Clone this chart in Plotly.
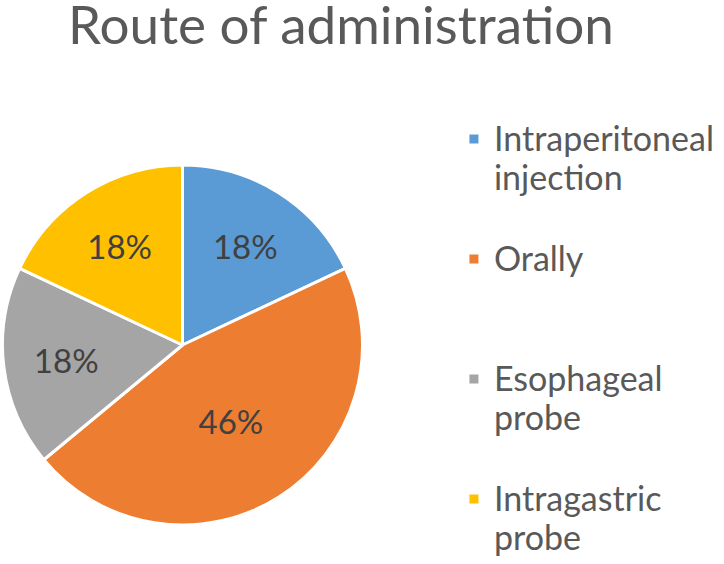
import plotly.graph_objects as go

# ---- data ----
categories = ["Intraperitoneal<br>injection", "Orally", "Esophageal<br>probe", "Intragastric<br>probe"]
values = [18, 46, 18, 18]
colors = ["#5B9BD5", "#ED7D31", "#A5A5A5", "#FFC000"]
title_text = "Route of administration"

FONT = "Lato, Carlito, Calibri, sans-serif"
LEG_TEXT_SIZE = 34
LEG_LINE_SIZE = 30


def legend_label(cat, last):
    lines = cat.split("<br>")
    styled = ["<span style='font-size:%dpx'>%s</span>" % (LEG_TEXT_SIZE, ln) for ln in lines]
    n = 2 if last else 3
    while len(styled) < n:
        styled.append(" ")
    return "<br>".join(styled)


labels = [legend_label(c, i == len(categories) - 1) for i, c in enumerate(categories)]

fig = go.Figure(
    go.Pie(
        labels=labels,
        values=values,
        sort=False,
        direction="clockwise",
        rotation=0,
        marker=dict(colors=colors, line=dict(color="white", width=3)),
        textinfo="percent",
        textposition="inside",
        insidetextorientation="horizontal",
        textfont=dict(family=FONT, size=33, color="#404040"),
        domain=dict(x=[2 / 724, 363 / 724], y=[1 - 525 / 564, 1 - 165 / 564]),
        hoverinfo="label+percent",
    )
)

fig.update_layout(
    width=724,
    height=564,
    margin=dict(l=0, r=0, t=0, b=0, autoexpand=False),
    paper_bgcolor="white",
    plot_bgcolor="white",
    font=dict(family=FONT, color="#595959"),
    title=dict(
        text=title_text,
        x=341 / 724,
        xanchor="center",
        xref="paper",
        y=1 - 25 / 564,
        yanchor="middle",
        yref="container",
        font=dict(family=FONT, size=53, color="#595959"),
    ),
    showlegend=True,
    legend=dict(
        x=0.627,
        xanchor="left",
        y=0,
        yanchor="bottom",
        valign="top",
        font=dict(family=FONT, size=LEG_LINE_SIZE, color="#595959"),
        bgcolor="rgba(0,0,0,0)",
        traceorder="normal",
    ),
)

fig.write_html(
    "out.html",
    config={"displayModeBar": False},
    post_script="document.body.style.margin='0';",
)
